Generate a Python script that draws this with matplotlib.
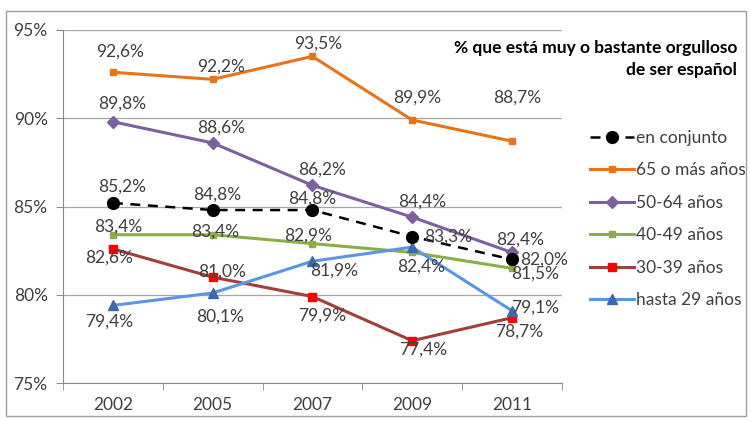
import matplotlib.pyplot as plt
from matplotlib.patches import Rectangle

# datos
anios = ["2002", "2005", "2007", "2009", "2011"]
conjunto = [85.2, 84.8, 84.8, 83.3, 82.0]
mas65 = [92.6, 92.2, 93.5, 89.9, 88.7]
de50a64 = [89.8, 88.6, 86.2, 84.4, 82.4]
de40a49 = [83.4, 83.4, 82.9, 82.4, 81.5]
de30a39 = [82.6, 81.0, 79.9, 77.4, 78.7]
hasta29 = [79.4, 80.1, 81.9, 82.7, 79.1]
con_etiqueta_hasta29 = [True, True, True, False, True]
nombres = ["en conjunto", "65 o más años", "50-64 años", "40-49 años", "30-39 años", "hasta 29 años"]

# desplazamiento de las etiquetas (puntos) respecto a cada marcador
desp = {
    "conjunto": [(6.5, 12), (3, 11), (0, 8), (26, 0), (23, 0)],
    "mas65": [(5, 15), (6, 9.5), (4, 9), (4, 16), (4, 31)],
    "de50a64": [(7, 13), (6, 11), (7, 11), (7, 11), (6, 9.5)],
    "de40a49": [(4, 6), (1.5, 2), (-3, 6), (6.5, -10), (17, -4)],
    "de30a39": [(-3, -6), (7, 4), (7, -14), (8, -6.5), (5, -10)],
    "hasta29": [(-3, -11.5), (5, -17), (16, -6.5), (0, 0), (16.5, 2)],
}

plt.rcParams['font.family'] = ['Lato', 'DejaVu Sans']
gris = '#404040'
fs = 12.5

fig = plt.figure(figsize=(7.5, 4.21), dpi=100)
ax = fig.add_axes([0.084, 0.090, 0.665, 0.839])
fig.patches.append(Rectangle((0.008, 0.012), 0.986, 0.962, transform=fig.transFigure,
                             fill=False, edgecolor='#a0a0a0', lw=1))

x = list(range(len(anios)))

ax.plot(x, conjunto, color='black', ls=(0, (4, 3)), lw=1.8, marker='o', ms=8.5, label=nombres[0], zorder=5)
ax.plot(x, mas65, color='#E8731A', lw=2.2, marker='s', ms=5, label=nombres[1], zorder=4)
ax.plot(x, de50a64, color='#7B61A0', lw=2.2, marker='D', ms=6, label=nombres[2], zorder=4)
ax.plot(x, de40a49, color='#8BAE4B', lw=2.2, marker='s', ms=5, label=nombres[3], zorder=4)
ax.plot(x, de30a39, color='#A23F3B', lw=2.2, marker='s', ms=5.5, mfc='red', mec='red', label=nombres[4], zorder=4)
ax.plot(x, hasta29, color='#5A95E6', lw=2.2, marker='^', ms=6.5, mfc='#3C6AA8', mec='#3C6AA8', label=nombres[5], zorder=4)


def fmt(v):
    return ("%.1f%%" % v).replace('.', ',')


def etiquetas(valores, offs, mostrar=None):
    for i, v in enumerate(valores):
        if mostrar is not None and not mostrar[i]:
            continue
        ax.annotate(fmt(v), (i, v), xytext=offs[i], textcoords='offset points',
                    ha='center', va='center', fontsize=fs, color=gris, zorder=6)


etiquetas(conjunto, desp["conjunto"])
etiquetas(mas65, desp["mas65"])
etiquetas(de50a64, desp["de50a64"])
etiquetas(de40a49, desp["de40a49"])
etiquetas(de30a39, desp["de30a39"])
etiquetas(hasta29, desp["hasta29"], con_etiqueta_hasta29)

ax.set_xlim(-0.5, len(anios) - 0.5)
ax.set_ylim(75, 95)
ax.set_yticks([75, 80, 85, 90, 95])
ax.set_yticklabels([f"{t}%" for t in [75, 80, 85, 90, 95]], fontsize=fs, color=gris)
ax.set_xticks(x)
ax.set_xticklabels(anios, fontsize=fs, color=gris)
ax.set_xticks([i + 0.5 for i in range(-1, len(anios))], minor=True)
ax.tick_params(axis='x', which='major', length=0, pad=10)
ax.tick_params(axis='x', which='minor', length=5, color='#888888')
ax.tick_params(axis='y', length=5, color='#888888', pad=6)
ax.grid(axis='y', color='#a6a6a6', lw=0.9)
ax.set_axisbelow(True)
for s in ['top', 'right']:
    ax.spines[s].set_visible(False)
ax.spines['left'].set_color('#888888')
ax.spines['bottom'].set_color('#888888')

fig.text(0.983, 0.86, "% que está muy o bastante orgulloso\nde ser español", ha='right', va='center',
         fontsize=12.5, fontweight='bold', color='black', linespacing=1.4)

leg = fig.legend(loc='center left', bbox_to_anchor=(0.766, 0.48), frameon=False, fontsize=fs,
                 handlelength=2.5, handletextpad=0.15, labelspacing=0.95)
for t in leg.get_texts():
    t.set_color(gris)

fig.savefig("out.png", dpi=100)
